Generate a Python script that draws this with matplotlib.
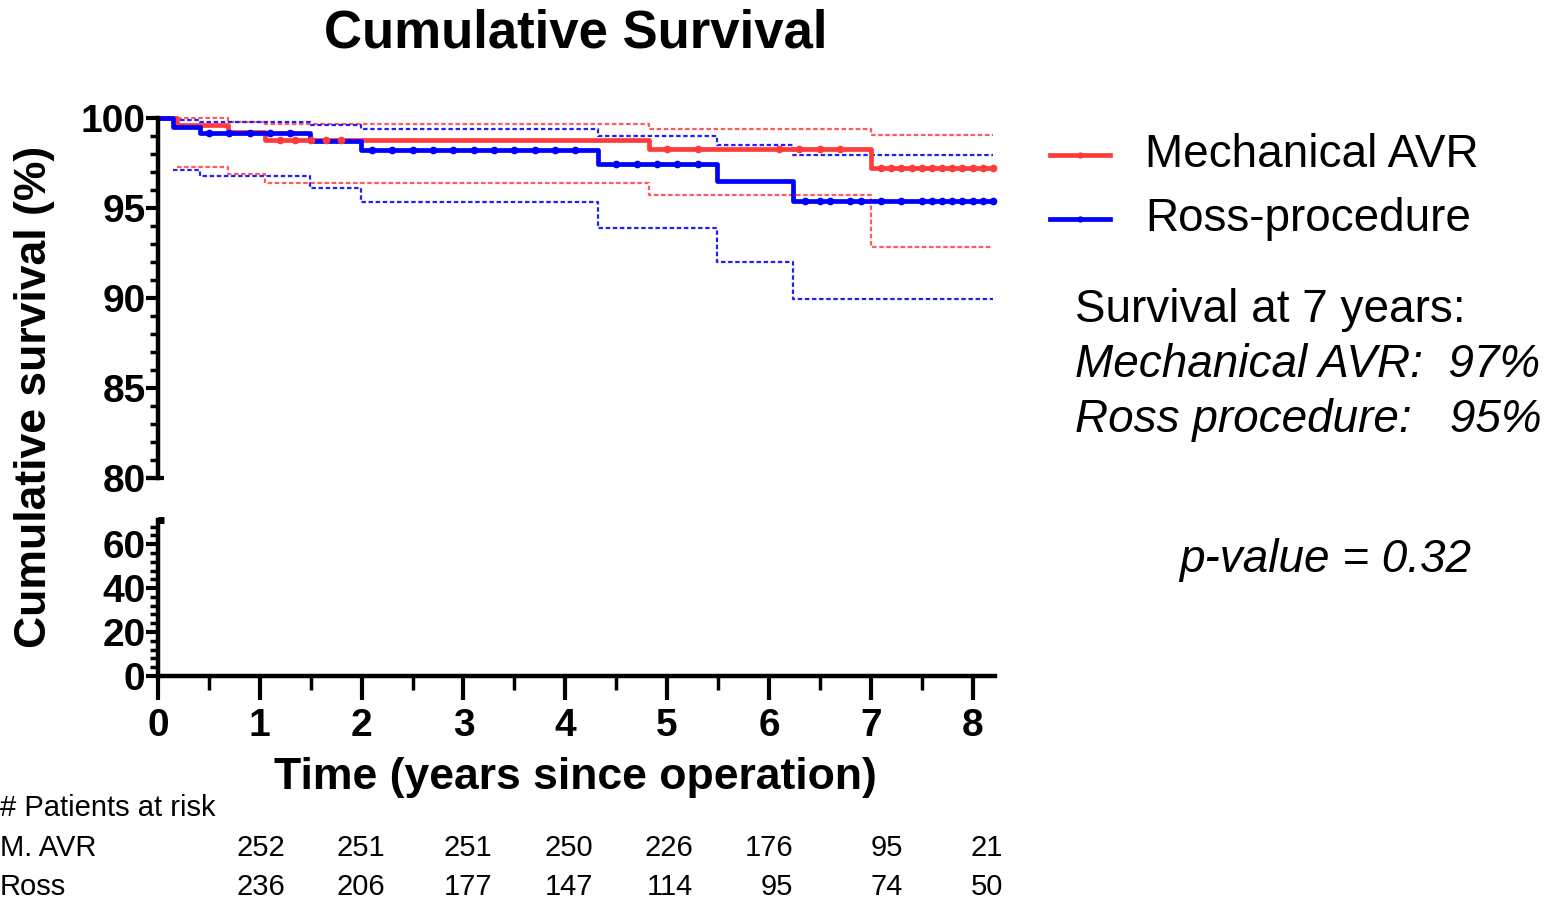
import matplotlib
matplotlib.use("Agg")
import matplotlib.pyplot as plt
from matplotlib.ticker import MultipleLocator

plt.rcParams['font.family'] = ['Liberation Sans', 'DejaVu Sans']

# ---------------- data ----------------
red_t = [0, 0.19, 0.69, 1.05, 4.82, 7.0, 8.2]
red_s = [100, 99.6, 99.2, 98.8, 98.3, 97.2, 97.2]
red_ci_t = [0.19, 0.69, 1.05, 4.82, 7.0, 8.2]
red_up = [100, 99.8, 99.67, 99.37, 99.05, 99.05]
red_lo = [97.3, 96.9, 96.4, 95.7, 92.85, 92.85]

blue_t = [0, 0.15, 0.41, 1.49, 1.99, 4.32, 5.49, 6.24, 8.2]
blue_s = [100, 99.5, 99.17, 98.7, 98.2, 97.45, 96.5, 95.4, 95.4]
blue_ci_t = [0.15, 0.41, 1.49, 1.99, 4.32, 5.49, 6.24, 8.2]
blue_up = [99.9, 99.8, 99.6, 99.37, 99.0, 98.5, 97.95, 97.95]
blue_lo = [97.1, 96.8, 96.1, 95.35, 93.9, 92.0, 89.95, 89.95]

red_cens = [1.2, 1.35, 1.5, 1.65, 1.8, 5.0, 5.3, 6.1, 6.3, 6.5, 6.7, 7.1, 7.2, 7.3, 7.4,
            7.5, 7.6, 7.7, 7.8, 7.9, 8.0, 8.1, 8.2]
blue_cens = [0.5, 0.7, 0.9, 1.1, 1.3, 2.1, 2.3, 2.5, 2.7, 2.9, 3.1, 3.3, 3.5, 3.7, 3.9, 4.1,
             4.5, 4.7, 4.9, 5.1, 5.3, 6.35, 6.5, 6.6, 6.8, 6.9, 7.1, 7.3, 7.5, 7.6, 7.7, 7.8,
             7.9, 8.0, 8.1, 8.2]

x_ticks = [0, 1, 2, 3, 4, 5, 6, 7, 8]
top_yticks = [80, 85, 90, 95, 100]
bot_yticks = [0, 20, 40, 60]

risk_rows = ["M. AVR", "Ross"]
risk_mavr = [252, 251, 251, 250, 226, 176, 95, 21]
risk_ross = [236, 206, 177, 147, 114, 95, 74, 50]

legend_labels = ["Mechanical AVR", "Ross-procedure"]

# ---------------- layout ----------------
W, H = 1559, 900
fig = plt.figure(figsize=(W / 100, H / 100), dpi=100)

def fx(px):
    return px / W

def fy(py):
    return 1 - py / H

RED = '#ff3b3b'
BLUE = '#0000ff'
RED_CI = '#ff5a5a'
BLUE_CI = '#2020ff'

x0, x1 = 158, 995
ax_top = fig.add_axes([fx(x0), fy(478), fx(x1 - x0), (478 - 118) / H])
ax_bot = fig.add_axes([fx(x0), fy(676), fx(x1 - x0), (676 - 520) / H])

TICK_FS = 28
xmax = 8.22
for ax in (ax_top, ax_bot):
    ax.set_xlim(0, xmax)
    ax.spines['top'].set_visible(False)
    ax.spines['right'].set_visible(False)
    ax.spines['left'].set_linewidth(3.2)
    ax.spines['bottom'].set_linewidth(3.2)
    ax.tick_params(axis='both', which='major', direction='out', width=3, length=9, labelsize=TICK_FS)
    ax.tick_params(axis='both', which='minor', direction='out', width=2.5, length=6)

ax_top.set_ylim(80, 100)
ax_top.spines['bottom'].set_visible(False)
ax_top.set_xticks([])
ax_top.set_yticks(top_yticks)
ax_top.yaxis.set_minor_locator(MultipleLocator(1))
ax_top.tick_params(axis='y', pad=0)
for lab in ax_top.get_yticklabels():
    lab.set_fontweight('bold')

ax_bot.set_ylim(0, 71)
ax_bot.set_yticks(bot_yticks)
ax_bot.yaxis.set_minor_locator(MultipleLocator(4))
ax_bot.set_xticks(x_ticks)
ax_bot.xaxis.set_minor_locator(MultipleLocator(0.5))
ax_bot.tick_params(axis='x', which='major', length=17, pad=6)
ax_bot.tick_params(axis='x', which='minor', length=10)
ax_bot.tick_params(axis='y', pad=0)
for lab in ax_bot.get_yticklabels() + ax_bot.get_xticklabels():
    lab.set_fontweight('bold')

# break caps
ax_top.plot([-0.12, 0.06], [80, 80], color='black', lw=3, clip_on=False, solid_capstyle='butt')
ax_bot.plot([0, 0.06], [71, 71], color='black', lw=5, clip_on=False, solid_capstyle='butt')

# CI lines
ax_top.step(red_ci_t, red_up, where='post', color=RED_CI, lw=1.6, ls=(0, (2, 1.2)), clip_on=False)
ax_top.step(red_ci_t, red_lo, where='post', color=RED_CI, lw=1.6, ls=(0, (2, 1.2)), clip_on=False)
ax_top.step(blue_ci_t, blue_up, where='post', color=BLUE_CI, lw=1.6, ls=(0, (2, 1.2)), clip_on=False)
ax_top.step(blue_ci_t, blue_lo, where='post', color=BLUE_CI, lw=1.6, ls=(0, (2, 1.2)), clip_on=False)

# survival curves
ax_top.step(red_t, red_s, where='post', color=RED, lw=3.4, clip_on=False)
ax_top.step(blue_t, blue_s, where='post', color=BLUE, lw=3.4, clip_on=False)

def surv_at(ts, ss, t):
    v = ss[0]
    for ti, si in zip(ts, ss):
        if t >= ti:
            v = si
    return v

ax_top.plot(red_cens, [surv_at(red_t, red_s, t) for t in red_cens], 'o', color=RED,
            ms=4.5, clip_on=False)
ax_top.plot(blue_cens, [surv_at(blue_t, blue_s, t) for t in blue_cens], 'o', color=BLUE,
            ms=4.5, clip_on=False)

# titles / labels
fig.text(fx(576), fy(34), "Cumulative Survival", ha='center', va='center',
         fontsize=38, fontweight='bold')
fig.text(fx(35), fy(397), "Cumulative survival (%)", ha='center', va='center',
         rotation=90, fontsize=32, fontweight='bold')
fig.text(fx(575), fy(778), "Time (years since operation)", ha='center', va='center',
         fontsize=32, fontweight='bold')

# legend
TXT_FS = 33
for i, (lab, col) in enumerate(zip(legend_labels, [RED, BLUE])):
    yy = fy(155 + 64 * i)
    fig.add_artist(plt.Line2D([fx(1050), fx(1110)], [yy, yy], color=col, lw=3.4))
    fig.add_artist(plt.Line2D([fx(1080)], [yy], color=col, marker='o', ms=3.5))
    fig.text(fx(1145), yy, lab, ha='left', va='center', fontsize=TXT_FS)

fig.text(fx(1075), fy(310), "Survival at 7 years:", ha='left', va='center', fontsize=TXT_FS)
fig.text(fx(1075), fy(365), "Mechanical AVR:  97%", ha='left', va='center', fontsize=TXT_FS,
         style='italic')
fig.text(fx(1075), fy(420), "Ross procedure:   95%", ha='left', va='center', fontsize=TXT_FS,
         style='italic')
fig.text(fx(1325), fy(560), "p-value = 0.32", ha='center', va='center', fontsize=TXT_FS,
         style='italic')

# risk table
risk_font = ['Liberation Sans Narrow', 'Liberation Sans', 'DejaVu Sans']
risk_x = [285, 385, 492, 593, 693, 793, 903, 1003]
RFS = 21
fig.text(fx(0), fy(808), "# Patients at risk", ha='left', va='center', fontsize=RFS,
         family=risk_font)
for r, (name, vals) in enumerate(zip(risk_rows, [risk_mavr, risk_ross])):
    yy = fy(848 + 39 * r)
    fig.text(fx(0), yy, name, ha='left', va='center', fontsize=RFS, family=risk_font)
    for xp, v in zip(risk_x, vals):
        fig.text(fx(xp), yy, str(v), ha='right', va='center', fontsize=RFS, family=risk_font)

fig.savefig("out.png", dpi=100)
